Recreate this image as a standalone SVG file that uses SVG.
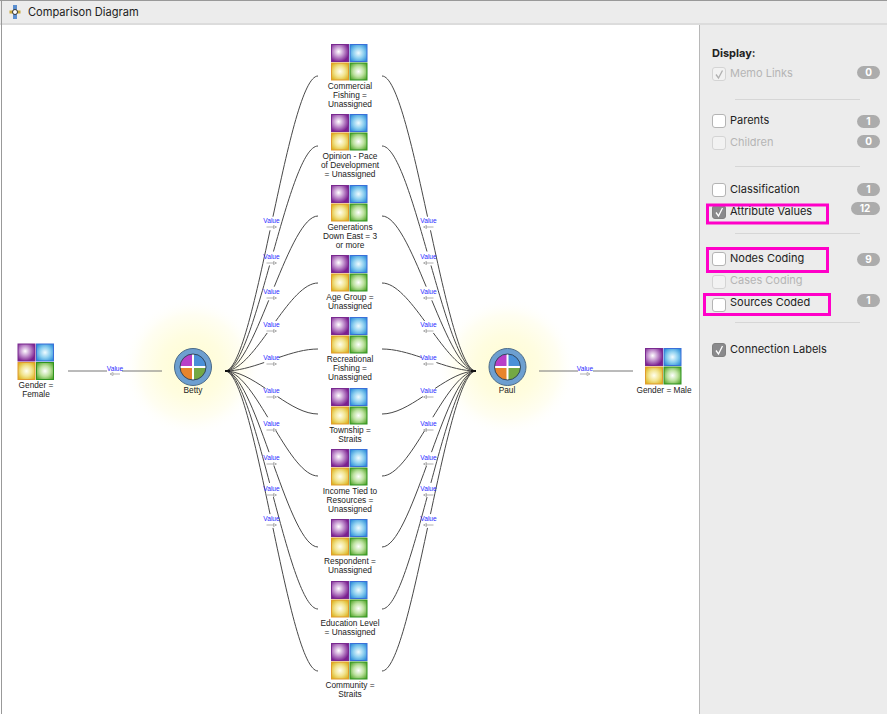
<svg xmlns="http://www.w3.org/2000/svg" width="887" height="714" viewBox="0 0 887 714">
<style>
text{font-family:"Inter","Liberation Sans",sans-serif}
.nl{font-family:"Liberation Sans",sans-serif;font-size:8.3px;fill:#222;text-anchor:middle}
.vl{font-family:"Liberation Sans",sans-serif;font-size:6.6px;fill:#2a2aff;text-anchor:middle}
.e{fill:none;stroke:#484848;stroke-width:1}
.eg{fill:none;stroke:#777;stroke-width:1}
.knot{stroke:#111;stroke-width:2}
.ar{fill:none;stroke:#b0b0b0;stroke-width:1}
.sep{stroke:#d6d6d6;stroke-width:1}
.cb{fill:#fff;stroke:#b4b4b4;stroke-width:1}
.cbd{fill:#f2f2f2;stroke:#d4d4d4;stroke-width:1}
.cbc{fill:#8a8a8c;stroke:#808080;stroke-width:1}
.chk{fill:none;stroke:#fff;stroke-width:1.300}
.pt{font-size:11px;fill:#222}
.ptd{font-size:11px;fill:#b5b5b5}
.pill{fill:#acacac}
.pn{font-size:10px;font-weight:700;fill:#fff;text-anchor:middle}
.mg{fill:none;stroke:#ff00c8;stroke-width:3}
</style>
<defs>
<radialGradient id="glow"><stop offset="0" stop-color="#fffcd0"/><stop offset=".45" stop-color="#fffde0"/><stop offset=".75" stop-color="#fffef2"/><stop offset="1" stop-color="#fff" stop-opacity="0"/></radialGradient>
<radialGradient id="p" cx=".42" cy=".42" r=".62"><stop offset="0" stop-color="#fff"/><stop offset=".45" stop-color="#c79ad2"/><stop offset="1" stop-color="#7a2090"/></radialGradient>
<radialGradient id="b" cx=".5" cy=".5" r=".62"><stop offset="0" stop-color="#f0fbff"/><stop offset=".5" stop-color="#8ed0f0"/><stop offset="1" stop-color="#2f90da"/></radialGradient>
<radialGradient id="y" cx=".5" cy=".5" r=".62"><stop offset="0" stop-color="#fffff0"/><stop offset=".5" stop-color="#f2e490"/><stop offset="1" stop-color="#dcb420"/></radialGradient>
<radialGradient id="g" cx=".5" cy=".5" r=".62"><stop offset="0" stop-color="#fff"/><stop offset=".5" stop-color="#bde2a0"/><stop offset="1" stop-color="#58a830"/></radialGradient>
<g id="icon">
<rect x="0.500" y="0.500" width="17" height="17" fill="url(#p)" stroke="#7a2a90"/>
<rect x="19" y="0.500" width="17" height="17" fill="url(#b)" stroke="#3a6fd8"/>
<rect x="0.500" y="19" width="17" height="17" fill="url(#y)" stroke="#e09a2e"/>
<rect x="19" y="19" width="17" height="17" fill="url(#g)" stroke="#2f9420"/>
</g>
<g id="hub">
<circle r="18.500" fill="#6d9fd0" stroke="#4a6a88" stroke-width="1"/>
<path d="M0 0V-13A13 13 0 0 0-13 0Z" fill="#b83fc8"/>
<path d="M0 0V-13A13 13 0 0 1 13 0Z" fill="#4a90d8"/>
<path d="M0 0V13A13 13 0 0 1-13 0Z" fill="#e8842c"/>
<path d="M0 0V13A13 13 0 0 0 13 0Z" fill="#74a844"/>
<path d="M-13 0H13M0-13V13" stroke="#fff" stroke-width="2"/>
<circle r="13" fill="none" stroke="#33475c" stroke-width="1"/>
</g>
<g id="arrR"><path class="ar" d="M-5 0H2M2-1.500L5 0L2 1.500Z"/></g>
<g id="arrL"><path class="ar" d="M5 0H-2M-2-1.500L-5 0L-2 1.500Z"/></g>
</defs>

<rect width="887" height="714" fill="#fff"/>
<rect x="700" y="24" width="187" height="690" fill="#ececec"/>
<rect x="699" y="24" width="1" height="690" fill="#b8b8b8"/>
<rect width="887" height="24" fill="#ececec"/>
<rect y="23" width="887" height="2" fill="#dcdcdc"/>
<rect width="887" height="1" fill="#999"/>
<rect x="1" width="1" height="714" fill="#999"/>
<g id="title">
<path d="M15 5V19" stroke="#5b8fd0" stroke-width="4"/>
<path d="M9.500 12H20.500" stroke="#c9a93a" stroke-width="3"/>
<circle cx="15" cy="12" r="2.500" fill="#fff" stroke="#333"/>
<text x="28" y="16" font-size="11.100" fill="#222">Comparison Diagram</text>
</g>

<circle cx="192" cy="367" r="70" fill="url(#glow)"/>
<circle cx="507" cy="367" r="70" fill="url(#glow)"/>

<g id="connectors">
<path class="e" d="M225 371C255 371 288 76 318 76" pathLength="100" stroke-dasharray="47.800 4.400 47.800"/>
<path class="e" d="M225 371C255 371 288 146 318 146" pathLength="100" stroke-dasharray="47.100 5.800 47.100"/>
<path class="e" d="M225 371C255 371 288 216 318 216" pathLength="100" stroke-dasharray="46.100 7.800 46.100"/>
<path class="e" d="M225 371C255 371 288 283 318 283" pathLength="100" stroke-dasharray="44.500 11 44.500"/>
<path class="e" d="M225 371C255 371 288 349 318 349" pathLength="100" stroke-dasharray="42 16 42"/>
<path class="e" d="M225 371C255 371 288 414 318 414" pathLength="100" stroke-dasharray="43 14 43"/>
<path class="e" d="M225 371C255 371 288 476 318 476" pathLength="100" stroke-dasharray="45 10 45"/>
<path class="e" d="M225 371C255 371 288 547 318 547" pathLength="100" stroke-dasharray="46.500 7 46.500"/>
<path class="e" d="M225 371C255 371 288 609 318 609" pathLength="100" stroke-dasharray="47.200 5.600 47.200"/>
<path class="e" d="M225 371C255 371 288 671 318 671" pathLength="100" stroke-dasharray="47.800 4.400 47.800"/>
<path class="e" d="M382 76C412 76 446 371 476 371" pathLength="100" stroke-dasharray="47.800 4.400 47.800"/>
<path class="e" d="M382 146C412 146 446 371 476 371" pathLength="100" stroke-dasharray="47.100 5.800 47.100"/>
<path class="e" d="M382 216C412 216 446 371 476 371" pathLength="100" stroke-dasharray="46.100 7.800 46.100"/>
<path class="e" d="M382 283C412 283 446 371 476 371" pathLength="100" stroke-dasharray="44.500 11 44.500"/>
<path class="e" d="M382 349C412 349 446 371 476 371" pathLength="100" stroke-dasharray="42 16 42"/>
<path class="e" d="M382 414C412 414 446 371 476 371" pathLength="100" stroke-dasharray="43 14 43"/>
<path class="e" d="M382 476C412 476 446 371 476 371" pathLength="100" stroke-dasharray="45 10 45"/>
<path class="e" d="M382 547C412 547 446 371 476 371" pathLength="100" stroke-dasharray="46.500 7 46.500"/>
<path class="e" d="M382 609C412 609 446 371 476 371" pathLength="100" stroke-dasharray="47.200 5.600 47.200"/>
<path class="e" d="M382 671C412 671 446 371 476 371" pathLength="100" stroke-dasharray="47.800 4.400 47.800"/>
<path class="knot" d="M225 371H230M471 371H476"/>
<path class="eg" d="M68 371H107M122 371H162M539 371H578M593 371H633"/>
<g id="labels">
<text class="vl" x="271.500" y="223">Value</text><use href="#arrR" x="271.500" y="227"/>
<text class="vl" x="271.500" y="259">Value</text><use href="#arrR" x="271.500" y="263"/>
<text class="vl" x="271.500" y="294">Value</text><use href="#arrR" x="271.500" y="298"/>
<text class="vl" x="271.500" y="327">Value</text><use href="#arrR" x="271.500" y="331"/>
<text class="vl" x="271.500" y="360">Value</text><use href="#arrR" x="271.500" y="364"/>
<text class="vl" x="271.500" y="393">Value</text><use href="#arrR" x="271.500" y="397"/>
<text class="vl" x="271.500" y="426">Value</text><use href="#arrR" x="271.500" y="430"/>
<text class="vl" x="271.500" y="460">Value</text><use href="#arrR" x="271.500" y="464"/>
<text class="vl" x="271.500" y="491">Value</text><use href="#arrR" x="271.500" y="495"/>
<text class="vl" x="271.500" y="521">Value</text><use href="#arrR" x="271.500" y="525"/>
<text class="vl" x="428.500" y="223">Value</text><use href="#arrL" x="428.500" y="227"/>
<text class="vl" x="428.500" y="259">Value</text><use href="#arrL" x="428.500" y="263"/>
<text class="vl" x="428.500" y="294">Value</text><use href="#arrL" x="428.500" y="298"/>
<text class="vl" x="428.500" y="327">Value</text><use href="#arrL" x="428.500" y="331"/>
<text class="vl" x="428.500" y="360">Value</text><use href="#arrL" x="428.500" y="364"/>
<text class="vl" x="428.500" y="393">Value</text><use href="#arrL" x="428.500" y="397"/>
<text class="vl" x="428.500" y="426">Value</text><use href="#arrL" x="428.500" y="430"/>
<text class="vl" x="428.500" y="460">Value</text><use href="#arrL" x="428.500" y="464"/>
<text class="vl" x="428.500" y="491">Value</text><use href="#arrL" x="428.500" y="495"/>
<text class="vl" x="428.500" y="521">Value</text><use href="#arrL" x="428.500" y="525"/>
<text class="vl" x="115" y="371">Value</text><use href="#arrL" x="115" y="374"/>
<text class="vl" x="585" y="371">Value</text><use href="#arrR" x="585" y="374"/>
</g>
</g>

<g id="n-betty"><use href="#hub" x="193" y="367"/><text class="nl" x="193" y="392.500">Betty</text></g>
<g id="n-paul"><use href="#hub" x="507.500" y="367"/><text class="nl" x="507" y="392.500">Paul</text></g>
<g id="n-female"><use href="#icon" x="17.500" y="343.500"/><text class="nl" x="36" y="387.500">Gender =</text><text class="nl" x="36" y="396.500">Female</text></g>
<g id="n-male"><use href="#icon" x="645" y="348"/><text class="nl" x="664" y="392.500">Gender = Male</text></g>
<g id="n1"><use href="#icon" x="331" y="44"/><text class="nl" x="350" y="88.500">Commercial</text><text class="nl" x="350" y="97.500">Fishing =</text><text class="nl" x="350" y="106.500">Unassigned</text></g>
<g id="n2"><use href="#icon" x="331" y="114"/><text class="nl" x="350" y="158.500">Opinion - Pace</text><text class="nl" x="350" y="167.500">of Development</text><text class="nl" x="350" y="176.500">= Unassigned</text></g>
<g id="n3"><use href="#icon" x="331" y="185"/><text class="nl" x="350" y="229.500">Generations</text><text class="nl" x="350" y="238.500">Down East = 3</text><text class="nl" x="350" y="247.500">or more</text></g>
<g id="n4"><use href="#icon" x="331" y="255"/><text class="nl" x="350" y="299.500">Age Group =</text><text class="nl" x="350" y="308.500">Unassigned</text></g>
<g id="n5"><use href="#icon" x="331" y="317"/><text class="nl" x="350" y="361.500">Recreational</text><text class="nl" x="350" y="370.500">Fishing =</text><text class="nl" x="350" y="379.500">Unassigned</text></g>
<g id="n6"><use href="#icon" x="331" y="388"/><text class="nl" x="350" y="432.500">Township =</text><text class="nl" x="350" y="441.500">Straits</text></g>
<g id="n7"><use href="#icon" x="331" y="449"/><text class="nl" x="350" y="493.500">Income Tied to</text><text class="nl" x="350" y="502.500">Resources =</text><text class="nl" x="350" y="511.500">Unassigned</text></g>
<g id="n8"><use href="#icon" x="331" y="519"/><text class="nl" x="350" y="564">Respondent =</text><text class="nl" x="350" y="573">Unassigned</text></g>
<g id="n9"><use href="#icon" x="331" y="581"/><text class="nl" x="350" y="626">Education Level</text><text class="nl" x="350" y="635">= Unassigned</text></g>
<g id="n10"><use href="#icon" x="331" y="643"/><text class="nl" x="350" y="688">Community =</text><text class="nl" x="350" y="697">Straits</text></g>

<g id="panel">
<text x="712" y="57" font-size="11" font-weight="700" fill="#222">Display:</text>
<rect class="cbd" x="712.500" y="67.500" width="13" height="13" rx="2.500"/><path d="M716 74.500L718.500 78L722.500 70.500" fill="none" stroke="#b0b0b0" stroke-width="1.300"/>
<text class="ptd" x="730" y="77">Memo Links</text>
<rect class="pill" x="857" y="66" width="23" height="13" rx="6.500"/><text class="pn" x="868.500" y="76">0</text>
<line class="sep" x1="735" y1="99.500" x2="860" y2="99.500"/>
<rect class="cb" x="712.500" y="114.500" width="13" height="13" rx="2.500"/>
<text class="pt" x="730" y="124">Parents</text>
<rect class="pill" x="857" y="115" width="23" height="13" rx="6.500"/><text class="pn" x="868.500" y="125">1</text>
<rect class="cbd" x="712.500" y="136.500" width="13" height="13" rx="2.500"/>
<text class="ptd" x="730" y="146">Children</text>
<rect class="pill" x="857" y="135" width="23" height="13" rx="6.500"/><text class="pn" x="868.500" y="145">0</text>
<line class="sep" x1="735" y1="166.500" x2="860" y2="166.500"/>
<rect class="cb" x="712.500" y="183.500" width="13" height="13" rx="2.500"/>
<text class="pt" x="730" y="193">Classification</text>
<rect class="pill" x="857" y="183" width="23" height="13" rx="6.500"/><text class="pn" x="868.500" y="193">1</text>
<rect class="cbc" x="712.500" y="205.500" width="13" height="13" rx="2.500"/><path class="chk" d="M716 212.500L718.500 216L722.500 208"/>
<text class="pt" x="730" y="215">Attribute Values</text>
<rect class="pill" x="851" y="202" width="29" height="13" rx="6.500"/><text class="pn" x="865" y="212">12</text>
<line class="sep" x1="735" y1="233.500" x2="860" y2="233.500"/>
<rect class="cb" x="712.500" y="252.500" width="13" height="13" rx="2.500"/>
<text class="pt" x="730" y="262">Nodes Coding</text>
<rect class="pill" x="857" y="253" width="23" height="13" rx="6.500"/><text class="pn" x="868.500" y="263">9</text>
<rect class="cbd" x="712.500" y="275.500" width="13" height="13" rx="2.500"/>
<text class="ptd" x="730" y="284">Cases Coding</text>
<rect class="cb" x="712.500" y="298.500" width="13" height="13" rx="2.500"/>
<text class="pt" x="730" y="306">Sources Coded</text>
<rect class="pill" x="857" y="294" width="23" height="13" rx="6.500"/><text class="pn" x="868.500" y="304">1</text>
<line class="sep" x1="735" y1="322.500" x2="860" y2="322.500"/>
<rect class="cbc" x="712.500" y="343.500" width="13" height="13" rx="2.500"/><path class="chk" d="M716 350.500L718.500 354L722.500 346"/>
<text class="pt" x="730" y="353">Connection Labels</text>
<rect class="mg" x="707.500" y="205" width="120" height="18"/>
<rect class="mg" x="707.500" y="248.500" width="120" height="23"/>
<rect class="mg" x="704.500" y="294.500" width="125" height="20"/>
</g>
</svg>
